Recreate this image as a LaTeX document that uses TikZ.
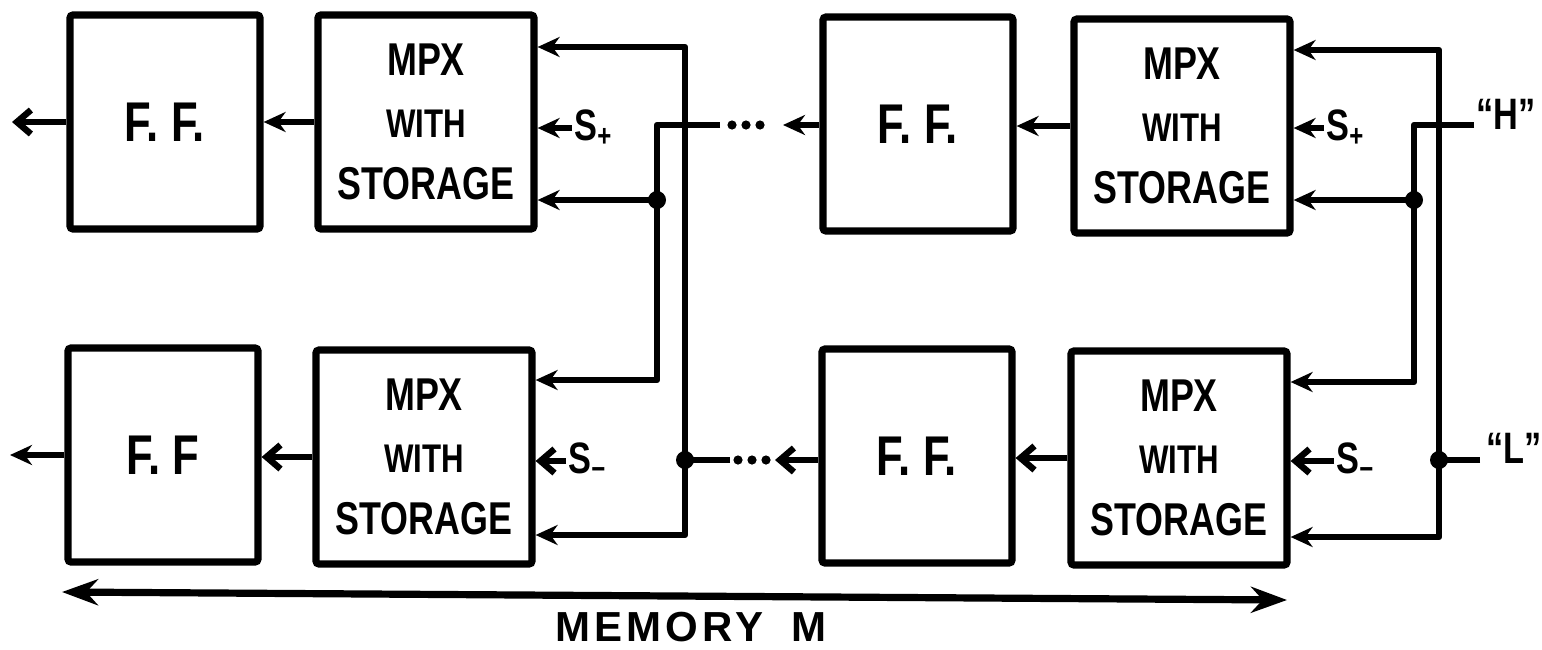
\documentclass[tikz,border=0pt]{standalone}
\usepackage{fontspec}
\newfontfamily\hand[FakeStretch=0.78]{Liberation Sans}
\newfontfamily\handwide[LetterSpace=10]{Liberation Sans}
\usetikzlibrary{arrows.meta}

\begin{document}
\begin{tikzpicture}[x=0.5pt,y=-0.5pt,
 ff/.style={draw=black,line width=3.6pt,rounded corners=1.5pt,inner sep=0pt,
            minimum width=95pt,minimum height=107pt,
            font=\hand\bfseries\fontsize{28}{30}\selectfont},
 mpx/.style={ff,minimum width=108pt,align=center,
             font=\hand\bfseries\fontsize{23}{31}\selectfont},
 wire/.style={line width=3.2pt,line join=round},
 flow/.style={wire,-{Stealth[length=11pt,width=10pt]}},
 barb/.style={wire,-{Straight Barb[length=7pt,width=12pt]}},
 dots/.style={line width=4.6pt,line cap=round,dash pattern=on 0pt off 7pt},
 sig/.style={font=\hand\bfseries\fontsize{22}{24}\selectfont,inner sep=1pt}]
\useasboundingbox (0,0) rectangle (1542,649);

% upper register
\node[ff] (ffA) at (165,122) {F. F.};
\node[mpx] (mpxA) at (426,122) {MPX\\{\fontsize{20}{31}\selectfont WITH}\\STORAGE};
\node[ff] (ffB) at (918,124) {F. F.};
\node[mpx] (mpxB) at (1182,126) {MPX\\{\fontsize{20}{31}\selectfont WITH}\\STORAGE};

% lower register
\node[ff] (ffC) at (163,455) {F. F};
\node[mpx] (mpxC) at (424,457) {MPX\\{\fontsize{20}{31}\selectfont WITH}\\STORAGE};
\node[ff] (ffD) at (917,456) {F. F.};
\node[mpx] (mpxD) at (1179,458) {MPX\\{\fontsize{20}{31}\selectfont WITH}\\STORAGE};

\draw[flow] (mpxA.west) -- (ffA.east |- mpxA.west);
\draw[flow] (mpxB.west) -- (ffB.east |- mpxB.west);
\draw[barb] (mpxC.west) -- (ffC.east |- mpxC.west);
\draw[barb] (mpxD.west) -- (ffD.east |- mpxD.west);

\coordinate (outA) at (12,122);
\coordinate (outC) at (10,460);
\draw[barb] (ffA.west) -- (ffA.west -| outA);
\draw[flow] (ffC.west) -- (ffC.west -| outC);

% select inputs
\node[sig,anchor=west] (spA) at (572,128) {S\textsubscript{+}};
\node[sig,anchor=west] (spB) at (1324,128) {S\textsubscript{+}};
\node[sig,anchor=west] (smC) at (566,461) {S\textsubscript{−}};
\node[sig,anchor=west] (smD) at (1334,461) {S\textsubscript{−}};
\draw[flow] (spA.west) -- (mpxA.east |- spA.west);
\draw[flow] (spB.west) -- (mpxB.east |- spB.west);
\draw[barb] (smC.west) -- (mpxC.east |- smC.west);
\draw[barb] (smD.west) -- (mpxD.east |- smD.west);

% links between the two stages
\coordinate (hA) at (657,125);
\coordinate (hjA) at (657,200);
\coordinate (hbA) at (657,380);
\coordinate (ltA) at (685,47);
\coordinate (ljA) at (685,460);
\coordinate (lbA) at (685,535);
\coordinate (tailB) at (720,125);
\coordinate (gapB) at (783,125);
\coordinate (tailD) at (730,460);
\coordinate (gapD) at (775,460);

\draw[flow] (tailB) -- (hA) -- (hbA) -- (mpxC.east |- hbA);
\draw[flow] (hjA) -- (mpxA.east |- hjA);
\draw[flow] (ljA) -- (ltA) -- (mpxA.east |- ltA);
\draw[flow] (ljA) -- (lbA) -- (mpxC.east |- lbA);
\draw[wire] (tailD) -- (ljA);
\fill (hjA) circle (4.5pt);
\fill (ljA) circle (4.5pt);
\draw[dots] (tailB) ++(12,0) -- ++(29,0);
\draw[dots] (tailD) ++(8,0) -- ++(29,0);
\draw[flow] (ffB.west |- gapB) -- (gapB);
\draw[barb] (ffD.west |- gapD) -- (gapD);

% "H" and "L" inputs
\coordinate (hinB) at (1474,125);
\coordinate (hB) at (1414,125);
\coordinate (hjB) at (1414,200);
\coordinate (hbB) at (1414,382);
\coordinate (linB) at (1480,460);
\coordinate (ltB) at (1439,50);
\coordinate (ljB) at (1439,460);
\coordinate (lbB) at (1439,537);

\node[sig,anchor=west] (hlab) at (1474,114) {“H”};
\node[sig,anchor=west] (llab) at (1484,448) {“L”};
\draw[flow] (hinB) -- (hB) -- (hbB) -- (mpxD.east |- hbB);
\draw[flow] (hjB) -- (mpxB.east |- hjB);
\draw[flow] (ljB) -- (ltB) -- (mpxB.east |- ltB);
\draw[flow] (ljB) -- (lbB) -- (mpxD.east |- lbB);
\draw[wire] (linB) -- (ljB);
\fill (hjB) circle (4.5pt);
\fill (ljB) circle (4.5pt);

% memory span
\coordinate (memL) at (62,592);
\coordinate (memR) at (1287,600);
\draw[line width=3.6pt,{Stealth[length=18pt,width=13pt]}-{Stealth[length=18pt,width=13pt]}] (memL) -- (memR);
\node[font=\handwide\bfseries\fontsize{21}{24}\selectfont] (memlab) at (691,627) {MEMORY\hspace{14pt}M};
\end{tikzpicture}
\end{document}
